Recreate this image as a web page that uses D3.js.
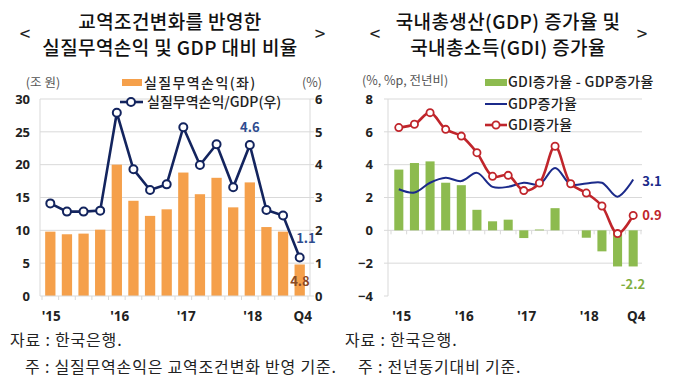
<!DOCTYPE html>
<html>
<head>
<meta charset="utf-8">
<script src="https://cdn.jsdelivr.net/npm/d3@7"></script>
<style>
  body { margin: 0; background: #fff; }
  svg { font-family: "Noto Sans CJK KR", "Noto Sans", sans-serif; }
</style>
</head>
<body>
<svg id="canvas" width="680" height="389"></svg>
<script>
// quarters 2015Q1 .. 2018Q4
let quarters = d3.range(16)
let xLabels = ["'15", "'16", "'17", "'18", "Q4"]
let xLabelIdx = [0, 4, 8, 12, 15]

// left chart
let tradeGain = [9.8, 9.4, 9.5, 10.1, 20.0, 14.5, 12.2, 13.2, 18.8, 15.5, 18.0, 13.5, 17.3, 10.5, 9.8, 4.8]
let tradeGainRatio = [2.82, 2.57, 2.57, 2.6, 5.58, 3.86, 3.23, 3.4, 5.14, 3.99, 4.62, 3.31, 4.6, 2.62, 2.45, 1.17]
let leftTicks = [0, 5, 10, 15, 20, 25, 30]
let rightTicks = [0, 1, 2, 3, 4, 5, 6]

// right chart
let gdiMinusGdp = [3.7, 4.1, 4.2, 2.9, 2.75, 1.25, 0.55, 0.65, -0.47, 0.05, 1.35, 0, -0.45, -1.28, -2.2, -2.2]
let gdpGrowth = [2.5, 2.3, 2.9, 3.2, 3.0, 3.5, 2.65, 2.65, 2.9, 2.8, 3.8, 2.8, 2.85, 2.9, 2.05, 3.1]
let gdiGrowth = [6.26, 6.46, 7.17, 6.15, 5.74, 4.73, 3.29, 3.35, 2.42, 2.88, 5.12, 2.84, 2.27, 1.48, -0.2, 0.91]
let gdiTicks = [-4, -2, 0, 2, 4, 6, 8]

let canvas = d3.select('#canvas')
let grid = '#d9d9d9'

let title = (cx, lines, lx, rx) => {
    canvas.append('text').attr('x', lx).attr('y', 41).text('<')
        .attr('font-size', 19).attr('fill', '#222').attr('text-anchor', 'middle')
    canvas.append('text').attr('x', rx).attr('y', 41).text('>')
        .attr('font-size', 19).attr('fill', '#222').attr('text-anchor', 'middle')
    lines.forEach((t, i) => {
        canvas.append('text').attr('x', cx).attr('y', 29 + i * 26).text(t)
            .attr('font-size', 19).attr('font-weight', 500).attr('fill', '#111')
            .attr('letter-spacing', 0.4).attr('text-anchor', 'middle')
    })
}

let styleAxis = (g) => {
    g.select('.domain').remove()
    g.selectAll('.tick line').remove()
    g.selectAll('text').attr('font-size', 13).attr('font-weight', 'bold')
        .attr('fill', '#222').attr('font-family', '"Noto Sans", sans-serif')
}

let legendText = (x, y, t, sp) => {
    canvas.append('text').attr('x', x).attr('y', y).text(t)
        .attr('font-size', 14).attr('font-weight', 500).attr('fill', '#222')
        .attr('letter-spacing', sp)
}

// ---------- left chart ----------
let drawLeft = () => {
    let x = d3.scaleBand().domain(quarters).range([42, 308]).paddingInner(0.38).paddingOuter(0.19)
    let y = d3.scaleLinear().domain([0, 30]).range([296, 99])
    let y2 = d3.scaleLinear().domain([0, 6]).range([296, 99])

    title(170, ['교역조건변화를 반영한', '실질무역손익 및 GDP 대비 비율'], 25, 320)

    canvas.append('g').selectAll('line').data(leftTicks.slice(1)).enter().append('line')
        .attr('x1', 40).attr('x2', 310).attr('y1', d => y(d)).attr('y2', d => y(d))
        .attr('stroke', grid).attr('stroke-width', 1)
    canvas.append('line').attr('x1', 40).attr('x2', 40).attr('y1', 99).attr('y2', 296).attr('stroke', grid)
    canvas.append('line').attr('x1', 310).attr('x2', 310).attr('y1', 99).attr('y2', 296).attr('stroke', grid)
    canvas.append('g').selectAll('line').data(rightTicks).enter().append('line')
        .attr('x1', 310).attr('x2', 314).attr('y1', d => y2(d)).attr('y2', d => y2(d)).attr('stroke', grid)

    canvas.append('g').attr('transform', 'translate(33,0)')
        .call(d3.axisLeft(y).tickValues(leftTicks).tickSize(0)).call(styleAxis)
    canvas.append('g').attr('transform', 'translate(312,0)')
        .call(d3.axisRight(y2).tickValues(rightTicks).tickFormat(d3.format('d')).tickSize(0)).call(styleAxis)

    canvas.append('g').selectAll('rect').data(tradeGain).enter().append('rect')
        .attr('x', (d, i) => x(i)).attr('width', x.bandwidth())
        .attr('y', d => y(d)).attr('height', d => y(0) - y(d))
        .attr('fill', '#F5A04B')

    // bottom axis with ticks between categories
    canvas.append('line').attr('x1', 40).attr('x2', 310).attr('y1', 296).attr('y2', 296).attr('stroke', grid)
    canvas.append('g').selectAll('line').data(d3.range(17)).enter().append('line')
        .attr('x1', d => 42 + d * x.step()).attr('x2', d => 42 + d * x.step())
        .attr('y1', 296).attr('y2', 300).attr('stroke', grid)

    let xc = i => x(i) + x.bandwidth() / 2
    canvas.append('path').datum(tradeGainRatio)
        .attr('d', d3.line().x((d, i) => xc(i)).y(d => y2(d)))
        .attr('fill', 'none').attr('stroke', '#13245E').attr('stroke-width', 2.6)
    canvas.append('g').selectAll('circle').data(tradeGainRatio).enter().append('circle')
        .attr('cx', (d, i) => xc(i)).attr('cy', d => y2(d)).attr('r', 4)
        .attr('fill', '#fff').attr('stroke', '#13245E').attr('stroke-width', 2)

    xLabelIdx.forEach((q, i) => {
        canvas.append('text').attr('x', xc(q) + (i == 0 ? 1 : 3)).attr('y', 321).text(xLabels[i])
            .attr('font-size', 13.5).attr('font-weight', 'bold').attr('fill', '#222')
            .attr('text-anchor', 'middle').attr('font-family', '"Noto Sans", sans-serif')
    })

    canvas.append('text').attr('x', xc(12)).attr('y', y2(tradeGainRatio[12]) - 13).text('4.6')
        .attr('font-size', 13).attr('font-weight', 'bold').attr('fill', '#2E4C8F').attr('text-anchor', 'middle')
    canvas.append('text').attr('x', 306).attr('y', 243).text('1.1')
        .attr('font-size', 13).attr('font-weight', 'bold').attr('fill', '#2E4C8F').attr('text-anchor', 'middle')
    canvas.append('text').attr('x', 300).attr('y', 286).text('4.8')
        .attr('font-size', 13).attr('font-weight', 'bold').attr('fill', '#8C4A26').attr('text-anchor', 'middle')

    canvas.append('text').attr('x', 43).attr('y', 87).text('(조 원)')
        .attr('font-size', 12.5).attr('fill', '#555').attr('text-anchor', 'middle')
    canvas.append('text').attr('x', 312).attr('y', 87).text('(%)')
        .attr('font-size', 12.5).attr('fill', '#555').attr('text-anchor', 'middle')

    // legend
    canvas.append('rect').attr('x', 122).attr('y', 79).attr('width', 20).attr('height', 7).attr('fill', '#F5A04B')
    legendText(144, 88, '실질무역손익(좌)', 1.4)
    canvas.append('line').attr('x1', 120).attr('x2', 143).attr('y1', 102).attr('y2', 102)
        .attr('stroke', '#13245E').attr('stroke-width', 2.6)
    canvas.append('circle').attr('cx', 131).attr('cy', 102).attr('r', 4)
        .attr('fill', '#fff').attr('stroke', '#13245E').attr('stroke-width', 2)
    legendText(147, 107, '실질무역손익/GDP(우)', 0)
}

// ---------- right chart ----------
let drawRight = () => {
    let x = d3.scaleBand().domain(quarters).range([391, 641]).paddingInner(0.42).paddingOuter(0.21)
    let y = d3.scaleLinear().domain([-4, 8]).range([296, 99])

    title(508, ['국내총생산(GDP) 증가율 및', '국내총소득(GDI) 증가율'], 375, 642)

    canvas.append('g').selectAll('line').data(gdiTicks.filter(d => d != -4)).enter().append('line')
        .attr('x1', 388).attr('x2', 642).attr('y1', d => y(d)).attr('y2', d => y(d))
        .attr('stroke', grid).attr('stroke-width', 1)
    canvas.append('line').attr('x1', 388).attr('x2', 388).attr('y1', 99).attr('y2', 296).attr('stroke', grid)
    canvas.append('g').selectAll('line').data(gdiTicks).enter().append('line')
        .attr('x1', 384).attr('x2', 388).attr('y1', d => y(d)).attr('y2', d => y(d)).attr('stroke', grid)
    canvas.append('g').attr('transform', 'translate(376,0)')
        .call(d3.axisLeft(y).tickValues(gdiTicks).tickSize(0)).call(styleAxis)

    canvas.append('g').selectAll('line.t').data(d3.range(17)).enter().append('line')
        .attr('x1', d => 391 + d * x.step()).attr('x2', d => 391 + d * x.step())
        .attr('y1', y(0)).attr('y2', y(0) + 4).attr('stroke', grid)

    canvas.append('g').selectAll('rect').data(gdiMinusGdp).enter().append('rect')
        .attr('x', (d, i) => x(i)).attr('width', x.bandwidth())
        .attr('y', d => y(Math.max(0, d))).attr('height', d => Math.abs(y(d) - y(0)))
        .attr('fill', '#8DBB4F')

    let xc = i => x(i) + x.bandwidth() / 2
    let line = d3.line().x((d, i) => xc(i)).y(d => y(d)).curve(d3.curveCatmullRom.alpha(0.5))
    canvas.append('path').datum(gdpGrowth).attr('d', line)
        .attr('fill', 'none').attr('stroke', '#1B2A8A').attr('stroke-width', 2)
    canvas.append('path').datum(gdiGrowth).attr('d', line)
        .attr('fill', 'none').attr('stroke', '#C0252B').attr('stroke-width', 2.6)
    canvas.append('g').selectAll('circle').data(gdiGrowth).enter().append('circle')
        .attr('cx', (d, i) => xc(i)).attr('cy', d => y(d)).attr('r', 3.6)
        .attr('fill', '#fff').attr('stroke', '#C0252B').attr('stroke-width', 1.8)

    xLabelIdx.forEach((q, i) => {
        canvas.append('text').attr('x', xc(q) + 3).attr('y', 321).text(xLabels[i])
            .attr('font-size', 13.5).attr('font-weight', 'bold').attr('fill', '#222')
            .attr('text-anchor', 'middle').attr('font-family', '"Noto Sans", sans-serif')
    })

    canvas.append('text').attr('x', 652).attr('y', 186).text('3.1')
        .attr('font-size', 13).attr('font-weight', 'bold').attr('fill', '#1B2A8A').attr('text-anchor', 'middle')
    canvas.append('text').attr('x', 652).attr('y', 220).text('0.9')
        .attr('font-size', 13).attr('font-weight', 'bold').attr('fill', '#C0252B').attr('text-anchor', 'middle')
    canvas.append('text').attr('x', 633).attr('y', 289).text('-2.2')
        .attr('font-size', 13).attr('font-weight', 'bold').attr('fill', '#7FAE3F').attr('text-anchor', 'middle')

    canvas.append('text').attr('x', 362).attr('y', 85).text('(%, %p, 전년비)')
        .attr('font-size', 12.5).attr('fill', '#555')

    // legend
    canvas.append('rect').attr('x', 485).attr('y', 79).attr('width', 22).attr('height', 7).attr('fill', '#8DBB4F')
    legendText(508, 87, 'GDI증가율 - GDP증가율', 0.3)
    canvas.append('line').attr('x1', 485).attr('x2', 507).attr('y1', 104).attr('y2', 104)
        .attr('stroke', '#1B2A8A').attr('stroke-width', 2)
    legendText(508, 109, 'GDP증가율', 0.3)
    canvas.append('line').attr('x1', 485).attr('x2', 507).attr('y1', 125).attr('y2', 125)
        .attr('stroke', '#C0252B').attr('stroke-width', 2.6)
    canvas.append('circle').attr('cx', 496).attr('cy', 125).attr('r', 3.6)
        .attr('fill', '#fff').attr('stroke', '#C0252B').attr('stroke-width', 1.8)
    legendText(508, 130, 'GDI증가율', 0.3)
}

let drawNotes = () => {
    let notes = [
        [10, 346, '자료 : 한국은행.'],
        [25, 373, '주 : 실질무역손익은 교역조건변화 반영 기준.'],
        [345, 346, '자료 : 한국은행.'],
        [358, 373, '주 : 전년동기대비 기준.']
    ]
    notes.forEach(n => {
        canvas.append('text').attr('x', n[0]).attr('y', n[1]).text(n[2])
            .attr('font-size', 16).attr('letter-spacing', 0.8).attr('fill', '#222')
    })
}

drawLeft()
drawRight()
drawNotes()
</script>
</body>
</html>
